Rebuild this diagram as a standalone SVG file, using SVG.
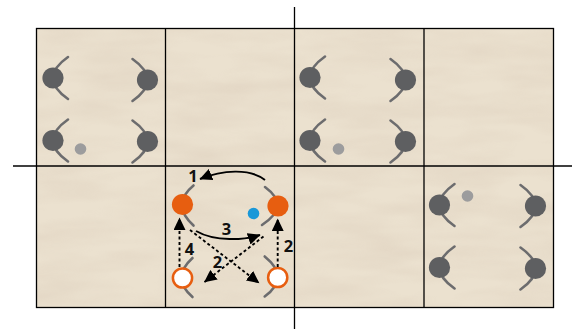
<svg xmlns="http://www.w3.org/2000/svg" width="572" height="329" viewBox="0 0 572 329">
  <style>
    .arc { fill: none; stroke: #6c6c6e; stroke-width: 2.6; stroke-linecap: round; }
    .dark { fill: #5e5f61; }
    .gdot { fill: #9c9c9d; }
    .grid { stroke: #000; stroke-width: 1.3; fill: none; }
    .sol { fill: none; stroke: #000; stroke-width: 1.9; }
    .dash { fill: none; stroke: #000; stroke-width: 1.9; stroke-dasharray: 3 2.5; }
    .lbl { font-family: "Open Sans", "Liberation Sans", sans-serif; font-weight: bold; font-size: 16.5px; fill: #111; text-anchor: middle; }
  </style>
  <defs>
    <filter id="tex" x="0" y="0" width="100%" height="100%">
      <feTurbulence type="fractalNoise" baseFrequency="0.012 0.05" numOctaves="3" seed="7" result="n"/>
      <feColorMatrix in="n" type="matrix" values="0 0 0 0 0.6  0 0 0 0 0.48  0 0 0 0 0.38  0 0 0 -1.1 0.75" result="c"/>
      <feComposite in="c" in2="SourceGraphic" operator="in"/>
    </filter>
    <path id="arcL" class="arc" d="M15,-21 Q-15,0 15,21"/>
    <path id="arcR" class="arc" d="M-15,-21 Q15,0 -15,21"/>
    <marker id="ah" markerUnits="userSpaceOnUse" markerWidth="13" markerHeight="12" refX="12" refY="6" orient="auto">
      <path d="M0,0 L12.5,6 L0,12 z" fill="#000"/>
    </marker>
  </defs>

  <rect width="572" height="329" fill="#fff"/>
  <g id="background">
    <rect x="36.5" y="28.5" width="517" height="279" fill="#ebe1cf"/>
    <rect x="36.5" y="28.5" width="517" height="279" fill="#ebe1cf" filter="url(#tex)" opacity="0.35"/>
  </g>

  <g id="grid">
    <rect class="grid" x="36.5" y="28.5" width="517" height="279"/>
    <line class="grid" x1="165.5" y1="28.5" x2="165.5" y2="307.5"/>
    <line class="grid" x1="424" y1="28.5" x2="424" y2="307.5"/>
    <line class="grid" x1="294.5" y1="7" x2="294.5" y2="329"/>
    <line class="grid" x1="13" y1="166" x2="572" y2="166"/>
  </g>

  <g id="cell-top-left">
    <g id="n1a" transform="translate(53,78)"><use href="#arcL"/><circle class="dark" r="10.6"/></g>
    <g id="n1b" transform="translate(147.5,80)"><use href="#arcR"/><circle class="dark" r="10.6"/></g>
    <g id="n1c" transform="translate(53,140.5)"><use href="#arcL"/><circle class="dark" r="10.6"/></g>
    <g id="n1d" transform="translate(147.5,141.5)"><use href="#arcR"/><circle class="dark" r="10.6"/></g>
    <circle id="n1e" class="gdot" cx="80.5" cy="149" r="5.8"/>
  </g>

  <g id="cell-top-third">
    <g id="n3a" transform="translate(310,77.5)"><use href="#arcL"/><circle class="dark" r="10.6"/></g>
    <g id="n3b" transform="translate(405.5,80)"><use href="#arcR"/><circle class="dark" r="10.6"/></g>
    <g id="n3c" transform="translate(310,140.5)"><use href="#arcL"/><circle class="dark" r="10.6"/></g>
    <g id="n3d" transform="translate(405.5,141.5)"><use href="#arcR"/><circle class="dark" r="10.6"/></g>
    <circle id="n3e" class="gdot" cx="338.5" cy="149" r="5.8"/>
  </g>

  <g id="cell-bottom-right">
    <g id="n8a" transform="translate(439.5,205)"><use href="#arcL"/><circle class="dark" r="10.6"/></g>
    <g id="n8b" transform="translate(535.5,206)"><use href="#arcR"/><circle class="dark" r="10.6"/></g>
    <g id="n8c" transform="translate(439.5,267.5)"><use href="#arcL"/><circle class="dark" r="10.6"/></g>
    <g id="n8d" transform="translate(535.5,268.5)"><use href="#arcR"/><circle class="dark" r="10.6"/></g>
    <circle id="n8e" class="gdot" cx="467.5" cy="196" r="5.8"/>
  </g>

  <g id="cell-center">
    <g id="c-tl" transform="translate(182.5,204.5)"><path class="arc" d="M11,-19 Q-12,0 11,21"/><circle r="10.6" fill="#e75e10"/></g>
    <g id="c-tr" transform="translate(278,206)"><path class="arc" d="M-13,-19 Q13,0 -16,19"/><circle r="10.6" fill="#e75e10"/></g>
    <g id="c-bl" transform="translate(182.5,278)"><path class="arc" d="M10,-20 Q-12,0 10,19"/><circle r="9.6" fill="#fff" stroke="#e75e10" stroke-width="2.5"/></g>
    <g id="c-br" transform="translate(277.7,277.5)"><path class="arc" d="M-13,-21 Q13,0 -13,19"/><circle r="9.6" fill="#fff" stroke="#e75e10" stroke-width="2.5"/></g>
    <circle id="c-blue" cx="253.5" cy="213.5" r="5.8" fill="#1a98d8"/>
  </g>

  <g id="connectors">
    <path class="sol" d="M265,180 C250,168 222,170 200,179" marker-end="url(#ah)"/>
    <path class="sol" d="M196,231 C215,242 245,240 260,235" marker-end="url(#ah)"/>
    <line class="dash" x1="179.5" y1="267" x2="179.5" y2="218" marker-end="url(#ah)"/>
    <line class="dash" x1="277.7" y1="267" x2="277.7" y2="219" marker-end="url(#ah)"/>
    <line class="dash" x1="190" y1="230" x2="259" y2="283" marker-end="url(#ah)"/>
    <line class="dash" x1="263.5" y1="236.5" x2="204.5" y2="282" marker-end="url(#ah)"/>
  </g>

  <g id="labels">
    <text class="lbl" x="193" y="182">1</text>
    <text class="lbl" x="226.5" y="234.5">3</text>
    <text class="lbl" x="189.5" y="255">4</text>
    <text class="lbl" x="288.5" y="252">2</text>
    <text class="lbl" x="217.5" y="268">2</text>
  </g>
</svg>
